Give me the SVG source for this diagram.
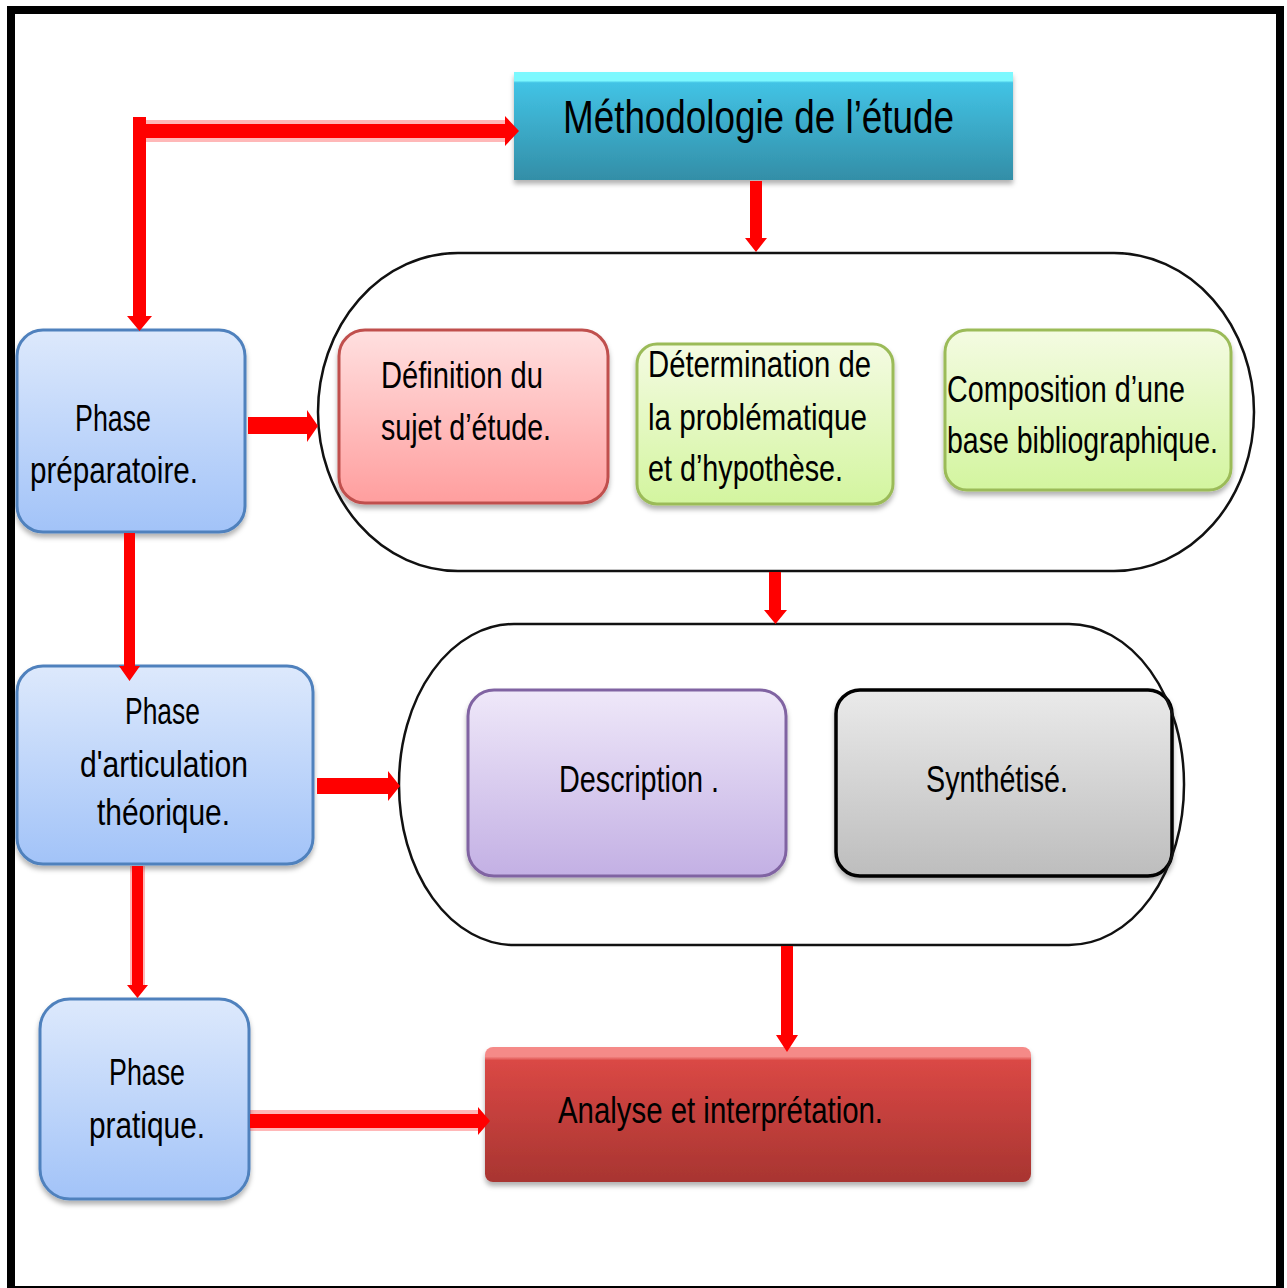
<svg xmlns="http://www.w3.org/2000/svg" width="1287" height="1288" viewBox="0 0 1287 1288">
<defs>
<style>
.t{font-family:"Liberation Sans",Arial,sans-serif;fill:#000;}
.s36{font-size:36px;}
.arrow{fill:#ff0000;}
.halo{fill:#ff0000;opacity:0.28;}
.pill{fill:none;stroke:#111;stroke-width:2.5;}
</style>
<filter id="sh" x="-10%" y="-10%" width="120%" height="130%">
<feDropShadow dx="0" dy="4" stdDeviation="2.5" flood-color="#000" flood-opacity="0.3"/>
</filter>
<linearGradient id="gBlue" x1="0" y1="0" x2="0" y2="1"><stop offset="0" stop-color="#dde9fc"/><stop offset="1" stop-color="#a2c3f8"/></linearGradient>
<linearGradient id="gRed" x1="0" y1="0" x2="0" y2="1"><stop offset="0" stop-color="#ffe0e0"/><stop offset="1" stop-color="#ff9e9e"/></linearGradient>
<linearGradient id="gGreen" x1="0" y1="0" x2="0" y2="1"><stop offset="0" stop-color="#f4fbe2"/><stop offset="1" stop-color="#d3f59f"/></linearGradient>
<linearGradient id="gPurple" x1="0" y1="0" x2="0" y2="1"><stop offset="0" stop-color="#efe8f9"/><stop offset="1" stop-color="#c3b0e4"/></linearGradient>
<linearGradient id="gGray" x1="0" y1="0" x2="0" y2="1"><stop offset="0" stop-color="#eaeaea"/><stop offset="1" stop-color="#bdbdbd"/></linearGradient>
<linearGradient id="gCyan" x1="0" y1="0" x2="0" y2="1"><stop offset="0" stop-color="#7cf8fe"/><stop offset="0.08" stop-color="#7cf8fe"/><stop offset="0.1" stop-color="#42c3e5"/><stop offset="1" stop-color="#338ea7"/></linearGradient>
<linearGradient id="gDark" x1="0" y1="0" x2="0" y2="1"><stop offset="0" stop-color="#f58a88"/><stop offset="0.07" stop-color="#f58a88"/><stop offset="0.1" stop-color="#da4845"/><stop offset="1" stop-color="#a83531"/></linearGradient>
</defs>
<rect x="0" y="0" width="1287" height="1288" fill="#fff"/>
<rect x="11" y="10" width="1269" height="1280" fill="none" stroke="#000" stroke-width="8"/>

<g id="methodologie">
<rect x="514" y="72" width="499" height="108" fill="url(#gCyan)" filter="url(#sh)"/>
<text class="t" x="563" y="133" font-size="46" textLength="391" lengthAdjust="spacingAndGlyphs">Méthodologie de l’étude</text>
</g>

<g id="phase-preparatoire">
<rect x="17" y="330" width="228" height="202" rx="26" fill="url(#gBlue)" stroke="#4f81bd" stroke-width="3" filter="url(#sh)"/>
<text class="t s36" x="75" y="431" textLength="76" lengthAdjust="spacingAndGlyphs">Phase</text>
<text class="t s36" x="30" y="483" textLength="168" lengthAdjust="spacingAndGlyphs">préparatoire.</text>
</g>

<g id="definition">
<rect x="339" y="330" width="269" height="173" rx="26" fill="url(#gRed)" stroke="#c0504d" stroke-width="3" filter="url(#sh)"/>
<text class="t s36" x="381" y="388" textLength="162" lengthAdjust="spacingAndGlyphs">Définition du</text>
<text class="t s36" x="381" y="440" textLength="170" lengthAdjust="spacingAndGlyphs">sujet d’étude.</text>
</g>

<g id="determination">
<rect x="637" y="344" width="256" height="160" rx="20" fill="url(#gGreen)" stroke="#9bbb59" stroke-width="3" filter="url(#sh)"/>
<text class="t s36" x="648" y="377" textLength="223" lengthAdjust="spacingAndGlyphs">Détermination de</text>
<text class="t s36" x="648" y="430" textLength="219" lengthAdjust="spacingAndGlyphs">la problématique</text>
<text class="t s36" x="648" y="481" textLength="195" lengthAdjust="spacingAndGlyphs">et d’hypothèse.</text>
</g>

<g id="composition">
<rect x="945" y="330" width="286" height="160" rx="22" fill="url(#gGreen)" stroke="#9bbb59" stroke-width="3" filter="url(#sh)"/>
<text class="t s36" x="947" y="402" textLength="238" lengthAdjust="spacingAndGlyphs">Composition d’une</text>
<text class="t s36" x="947" y="453" textLength="271" lengthAdjust="spacingAndGlyphs">base bibliographique.</text>
</g>

<g id="phase-articulation">
<rect x="17" y="666" width="296" height="198" rx="26" fill="url(#gBlue)" stroke="#4f81bd" stroke-width="3" filter="url(#sh)"/>
<text class="t s36" x="125" y="724" textLength="75" lengthAdjust="spacingAndGlyphs">Phase</text>
<text class="t s36" x="80" y="777" textLength="168" lengthAdjust="spacingAndGlyphs">d'articulation</text>
<text class="t s36" x="97" y="825" textLength="133" lengthAdjust="spacingAndGlyphs">théorique.</text>
</g>

<g id="description">
<rect x="468" y="690" width="318" height="186" rx="26" fill="url(#gPurple)" stroke="#8064a2" stroke-width="3" filter="url(#sh)"/>
<text class="t s36" x="559" y="792" textLength="160" lengthAdjust="spacingAndGlyphs">Description .</text>
</g>

<g id="synthetise">
<rect x="836" y="690" width="336" height="186" rx="24" fill="url(#gGray)" stroke="#000" stroke-width="3.5" filter="url(#sh)"/>
<text class="t s36" x="926" y="792" textLength="142" lengthAdjust="spacingAndGlyphs">Synthétisé.</text>
</g>

<g id="groupe-preparatoire">
<rect class="pill" x="318" y="253" width="936" height="318" rx="140" ry="159"/>
</g>

<g id="groupe-theorique">
<rect class="pill" x="399" y="624" width="785" height="321" rx="115" ry="160"/>
</g>

<g id="phase-pratique">
<rect x="40" y="999" width="209" height="200" rx="30" fill="url(#gBlue)" stroke="#4f81bd" stroke-width="3" filter="url(#sh)"/>
<text class="t s36" x="109" y="1085" textLength="76" lengthAdjust="spacingAndGlyphs">Phase</text>
<text class="t s36" x="89" y="1138" textLength="116" lengthAdjust="spacingAndGlyphs">pratique.</text>
</g>

<g id="analyse">
<rect x="485" y="1047" width="546" height="135" rx="8" fill="url(#gDark)" filter="url(#sh)"/>
<text class="t s36" x="558" y="1123" textLength="325" lengthAdjust="spacingAndGlyphs">Analyse et interprétation.</text>
</g>

<g id="connectors">
<rect class="halo" x="146" y="120" width="359" height="22"/>
<path class="arrow" d="M133,117 L146,117 L146,124 L505,124 L505,116 L519,131 L505,146 L505,138 L146,138 L146,316 L152,316 L139.5,331 L127,316 L133,316 Z"/>
<path class="arrow" d="M750,181 L762,181 L762,238 L767,238 L756,252 L745,238 L750,238 Z"/>
<path class="arrow" d="M769,572 L781,572 L781,610 L787,610 L775.5,624 L764,610 L769,610 Z"/>
<path class="arrow" d="M248,417 L307,417 L307,410 L318,426 L307,442 L307,434 L248,434 Z"/>
<path class="arrow" d="M124,533 L135,533 L135,666 L140,666 L129.5,681 L119,666 L124,666 Z"/>
<path class="arrow" d="M317,778 L388,778 L388,771 L400,786 L388,801 L388,794 L317,794 Z"/>
<rect class="halo" x="130" y="866" width="15" height="119"/>
<path class="arrow" d="M132,866 L143,866 L143,985 L148,985 L137.5,998 L127,985 L132,985 Z"/>
<path class="arrow" d="M781,946 L793,946 L793,1035 L798,1035 L787,1052 L776,1035 L781,1035 Z"/>
<rect class="halo" x="250" y="1110" width="228" height="21"/>
<path class="arrow" d="M250,1114 L478,1114 L478,1107 L490,1121 L478,1135 L478,1128 L250,1128 Z"/>
</g>
</svg>
